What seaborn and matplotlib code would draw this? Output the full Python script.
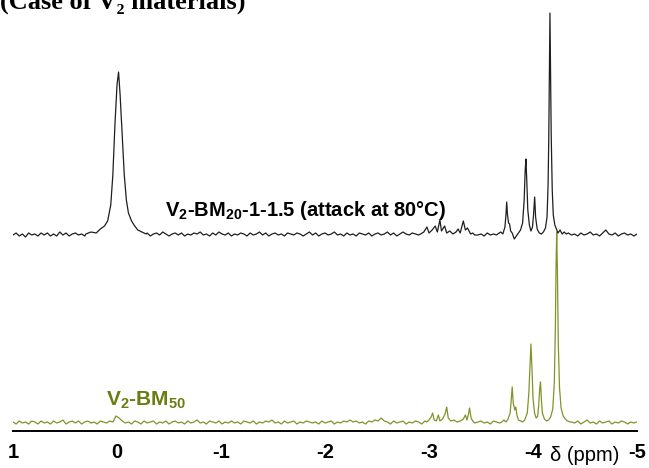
import matplotlib
matplotlib.use("Agg")
import matplotlib.pyplot as plt
import seaborn as sns
import numpy as np
import pandas as pd

# Chemical shift grid for the baseline noise (ppm), 1 -> -5, step 0.03
noise_ppm = np.linspace(1.0, -5.0, 201)

# Baseline noise of the black spectrum (V2-BM20-1-1.5)
black_noise = [
    0, 2, -1, 1, -2, 2, 0, 1, -1, 2,
    0, 2, -1, 1, -1, 3, 0, 2, -1, 1,
    2, 0, 1, -1, 2, 1, 3, 0, 2, 4,
    0, 0, 0, 0, 0, 0, 0, 0, 0, 0,
    1, 3, 0, 2, -1, 1, 2, 0, 3, 1,
    -1, 1, 2, 0, 2, -1, 1, 0, 2, 1,
    3, 0, 1, -1, 2, 0, 3, 1, 0, 2,
    -1, 1, 0, 2, 1, -1, 2, 0, 1, 3,
    0, 2, -1, 1, 2, 0, 1, -1, 2, 1,
    0, 2, 1, -1, 1, 3, 0, 2, -1, 1,
    2, 0, 1, 3, 0, 1, -1, 2, 0, 1,
    -1, 2, 1, 0, 2, -1, 1, 2, 0, 1,
    3, 0, 2, -1, 1, 3, 1, 0, 2, 1,
    0, 0, 0, 0, 0, 0, 0, 0, 0, 0,
    0, 0, 0, 0, 0, 0, 0, 0, 0, 0,
    1, -1, 2, 0, 1, 0, 0, 0, 0, 0,
    0, 0, 0, 0, 0, 0, 0, 0, 0, 0,
    0, 0, 0, 0, 0, 0, 0, 0, 2, 0,
    1, -1, 2, 0, 1, 3, 0, 1, -1, 2,
    5, 1, 0, 2, -1, 1, 2, 0, 1, -1,
    1,
]

# Baseline noise of the green spectrum (V2-BM50)
green_noise = [
    1, -1, 2, 0, 1, -1, 2, 1, -1, 2,
    0, 1, -1, 2, 0, 1, 3, -1, 1, 2,
    0, 2, -1, 1, 2, 0, 1, -1, 2, 1,
    0, 2, 1, 7, 5, 2, 0, 1, -1, 2,
    1, -1, 2, 0, 1, 2, -1, 1, 0, 2,
    -1, 1, 2, 0, 1, -1, 2, 0, 1, 3,
    0, 1, -1, 2, 1, 0, 2, -1, 1, 0,
    2, 0, 1, -1, 2, 1, 0, 2, -1, 1,
    0, 2, 1, 3, 0, 1, -1, 2, 0, 1,
    2, -1, 1, 0, 2, 1, 0, 1, -1, 2,
    0, 1, 2, -1, 1, 0, 2, 1, 3, 1,
    2, 0, 1, -1, 2, 1, 3, 2, 5, 2,
    1, -1, 2, 0, 1, 2, -1, 1, 0, 2,
    1, -1, 2, 0, 0, 0, 0, 0, 0, 0,
    0, 0, 0, 0, 0, 0, 0, 0, 0, 1,
    2, 0, 1, -1, 2, 1, 0, 0, 0, 0,
    0, 0, 0, 0, 0, 0, 0, 0, 0, 0,
    0, 0, 0, 0, 0, 0, 0, 0, 0, 1,
    0, 2, -1, 1, 3, 0, 1, -1, 2, 0,
    1, 2, -1, 1, 0, 2, 1, -1, 1, 0,
    1,
]

# Resonances of the black spectrum: (ppm, intensity) points
black_peak0_ppm = [0.30, 0.25, 0.20, 0.16, 0.12, 0.09, 0.06, 0.04, 0.02, 0.00, -0.015,
                   -0.03, -0.05, -0.07, -0.09, -0.11, -0.14, -0.17, -0.20, -0.24, -0.28]
black_peak0_int = [1, 3, 2, 6, 9, 14, 30, 60, 110, 150, 163,
                   140, 100, 60, 35, 22, 14, 9, 5, 3, 1]

black_small_ppm = [-2.92, -2.95, -2.98, -3.00, -3.03, -3.06, -3.08, -3.105, -3.12, -3.15, -3.17,
                   -3.20, -3.23, -3.26, -3.28, -3.30, -3.33, -3.35, -3.37, -3.40, -3.42]
black_small_int = [1, 3, 8, 2, 5, 9, 3, 15, 4, 9, 2,
                   4, 1, 3, 6, 2, 14, 5, 7, 1, 2]

black_big_ppm = [-3.66, -3.69, -3.71, -3.73, -3.74, -3.747, -3.755, -3.765, -3.775, -3.785,
                 -3.80, -3.82, -3.84, -3.86, -3.88, -3.90, -3.915, -3.925, -3.932, -3.94,
                 -3.95, -3.965, -3.98, -3.995, -4.005, -4.016, -4.025, -4.04, -4.06, -4.08,
                 -4.10, -4.12, -4.135, -4.145, -4.152, -4.158, -4.163, -4.168, -4.175, -4.185,
                 -4.195, -4.21, -4.225, -4.24, -4.26, -4.28, -4.30, -4.32]
black_big_int = [1, 3, 1, 8, 20, 33, 20, 12, 11, 4,
                 2, -4, -1, 2, 5, 12, 35, 65, 76, 55,
                 25, 10, 4, 8, 20, 38, 18, 6, 2, 1,
                 3, 7, 18, 50, 100, 170, 222, 175, 100, 45,
                 20, 10, 6, 2, 5, 1, 3, 1]

# Resonances of the green spectrum
green_small_ppm = [-2.98, -3.00, -3.02, -3.035, -3.05, -3.07, -3.09, -3.105, -3.13, -3.155, -3.17,
                   -3.185, -3.21, -3.24, -3.27, -3.30, -3.33, -3.35, -3.365, -3.38, -3.39,
                   -3.405, -3.42, -3.44]
green_small_int = [1, 3, 6, 10, 3, 2, 8, 2, 4, 9, 16,
                   5, 2, 3, 1, 2, 4, 8, 3, 9, 15,
                   5, 2, 0]

green_big_ppm = [-3.70, -3.72, -3.74, -3.76, -3.78, -3.79, -3.80, -3.81, -3.825, -3.835,
                 -3.845, -3.86, -3.88, -3.90, -3.92, -3.945, -3.96, -3.972, -3.98, -3.99,
                 -4.00, -4.015, -4.03, -4.045, -4.055, -4.065, -4.072, -4.08, -4.09, -4.11,
                 -4.13, -4.15, -4.17, -4.19, -4.205, -4.215, -4.222, -4.228, -4.235, -4.243,
                 -4.255, -4.27, -4.29, -4.31, -4.33, -4.36]
green_big_int = [1, 3, 1, 4, 10, 22, 36, 20, 13, 16,
                 8, 3, 2, 1, 3, 10, 30, 60, 79, 55,
                 25, 10, 5, 7, 18, 35, 41, 25, 10, 4,
                 2, 3, 6, 14, 40, 95, 160, 191, 150, 80,
                 35, 15, 7, 4, 2, 1]

# vertical stacking of the two spectra
black_offset = 196
green_offset = 8

black_label = r"V$_\mathbf{2}$-BM$_\mathbf{20}$-1-1.5 (attack at 80°C)"
green_label = r"V$_\mathbf{2}$-BM$_\mathbf{50}$"
title_text = "(Case of V\u2082 materials)"

BLACK = "#1e1e1e"
OLIVE = "#82932a"
OLIVE_TEXT = "#6b7d12"


def build_trace(noise, clusters, offset):
    ppm = np.asarray(noise_ppm)
    val = np.asarray(noise, dtype=float)
    keep = np.ones(len(ppm), dtype=bool)
    for cp, _ in clusters:
        keep &= ~((ppm <= max(cp)) & (ppm >= min(cp)))
    all_ppm = np.concatenate([ppm[keep]] + [np.asarray(cp, float) for cp, _ in clusters])
    all_val = np.concatenate([val[keep]] + [np.asarray(cv, float) for _, cv in clusters])
    order = np.argsort(-all_ppm)
    return pd.DataFrame({"ppm": all_ppm[order], "intensity": all_val[order] + offset})


black_df = build_trace(black_noise, [(black_peak0_ppm, black_peak0_int),
                                     (black_small_ppm, black_small_int),
                                     (black_big_ppm, black_big_int)], black_offset)
green_df = build_trace(green_noise, [(green_small_ppm, green_small_int),
                                     (green_big_ppm, green_big_int)], green_offset)

sns.set_style("white")
plt.rcParams["font.family"] = ["Liberation Sans", "DejaVu Sans"]
plt.rcParams["mathtext.fontset"] = "custom"
plt.rcParams["mathtext.bf"] = "Liberation Sans:bold"
plt.rcParams["mathtext.rm"] = "Liberation Sans:bold"

fig = plt.figure(figsize=(6.49, 4.68), dpi=100)
ax = fig.add_axes([13 / 649, 1 - 431 / 468, 624 / 649, 431 / 468])

sns.lineplot(data=green_df, x="ppm", y="intensity", sort=False, estimator=None,
             color=OLIVE, linewidth=0.9, ax=ax)
sns.lineplot(data=black_df, x="ppm", y="intensity", sort=False, estimator=None,
             color=BLACK, linewidth=0.9, ax=ax)

ax.set_xlim(1, -5)
ax.set_ylim(0, 431)
ax.set_xlabel("")
ax.set_ylabel("")
ax.set_yticks([])
for side in ("top", "left", "right"):
    ax.spines[side].set_visible(False)
ax.spines["bottom"].set_linewidth(1.4)
ax.spines["bottom"].set_color("black")
ax.set_facecolor("none")

ax.set_xticks([1, 0, -1, -2, -3, -4, -5])
ax.set_xticklabels(["1", "0", "-1", "-2", "-3", "-4", "-5"])
ax.set_xticks([0.5, -0.5, -1.5, -2.5, -3.5, -4.5], minor=True)
ax.tick_params(axis="x", which="major", direction="out", length=6, width=1.4,
               pad=3, labelsize=14.5, colors="black")
ax.tick_params(axis="x", which="minor", direction="out", length=3.5, width=1.2,
               colors="black")
for lab in ax.get_xticklabels():
    lab.set_fontweight("bold")

ax.text(-4.5, -0.058, "\u03b4 (ppm)", transform=ax.get_xaxis_transform(),
        ha="center", va="center", fontsize=14.5, color="black")

ax.text(-1.81, 221, black_label, ha="center", va="center",
        fontsize=14.5, fontweight="bold", color="black")
ax.text(-0.28, 31, green_label, ha="center", va="center",
        fontsize=15, fontweight="bold", color=OLIVE_TEXT)

fig.text(0.0, 1 - 9 / 468, title_text, ha="left", va="baseline",
         fontsize=19, fontweight="bold", color="black",
         family=["Liberation Serif", "DejaVu Serif"])

fig.savefig("out.png", dpi=100)
